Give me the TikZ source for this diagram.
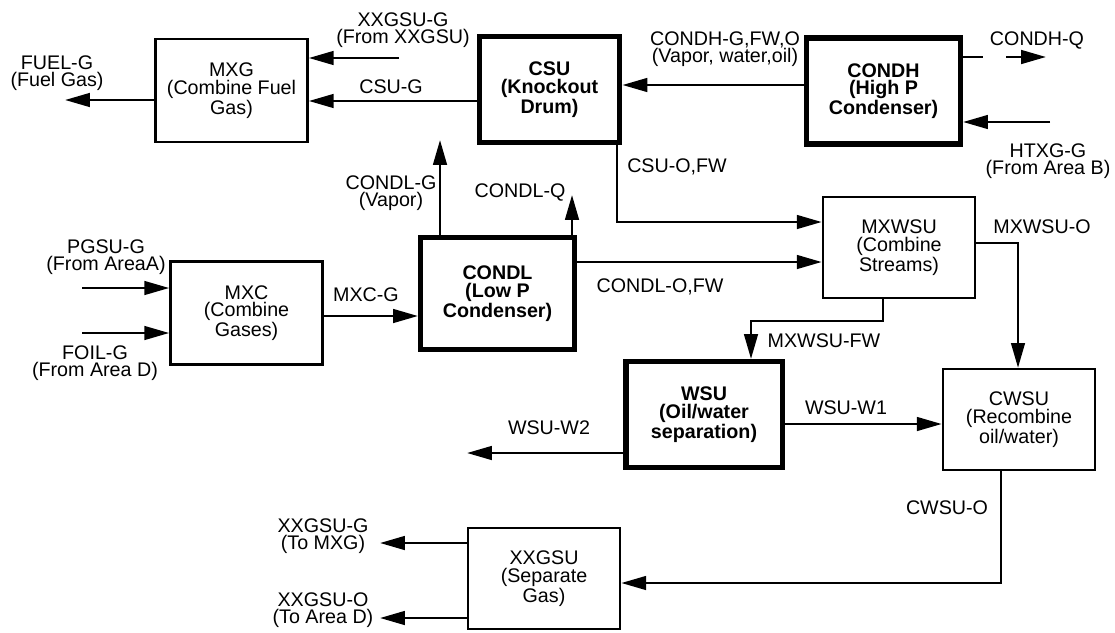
\documentclass[tikz,border=0pt]{standalone}
\usepackage{fontspec}
\setmainfont{Liberation Sans}
\usetikzlibrary{arrows.meta}

\begin{document}
\begin{tikzpicture}[x=0.025cm, y=-0.025cm,
  font=\fontsize{14}{12.5}\selectfont,
  unit/.style={draw, line width=1.8pt, align=center, inner sep=0pt,
    minimum width=3.8cm, minimum height=2.58cm},
  bigunit/.style={unit, line width=3.6pt, font=\fontsize{14}{12.5}\selectfont\bfseries,
    minimum width=3.85cm, minimum height=2.65cm},
  lbl/.style={align=center, inner sep=0pt},
  pipe/.style={line width=1.8pt},
  flow/.style={pipe, -{Triangle[length=0.62cm, width=0.34cm]}}]
\useasboundingbox (0,0) rectangle (1115,632);
% process units
\node[unit] (mxg) at (231.5,90.5) {MXG\\(Combine Fuel\\Gas)};
\node[bigunit, minimum width=3.52cm] (csu) at (549.5,89.5) {CSU\\(Knockout\\Drum)};
\node[bigunit] (condh) at (883.5,91) {CONDH\\(High P\\Condenser)};
\node[unit] (mxc) at (246.5,313) {MXC\\(Combine\\Gases)};
\node[bigunit, minimum height=2.78cm] (condl) at (497.5,293.5) {CONDL\\(Low P\\Condenser)};
\node[unit, minimum height=2.52cm] (mxwsu) at (899,247.5) {MXWSU\\(Combine\\Streams)};
\node[bigunit, minimum width=3.9cm] (wsu) at (704,414.5) {WSU\\(Oil/water\\separation)};
\node[unit, minimum height=2.52cm] (cwsu) at (1019,419.5) {CWSU\\(Recombine\\oil/water)};
\node[unit, minimum height=2.52cm] (xxgsu) at (544,578.5) {XXGSU\\(Separate\\Gas)};
% stream labels
\node[lbl] (lfuel) at (57,73) {FUEL-G\\(Fuel Gas)};
\node[lbl] (lxxin) at (403,30) {XXGSU-G\\(From XXGSU)};
\node[lbl] (lcsug) at (391,87) {CSU-G};
\node[lbl] (lcondhg) at (725,49) {CONDH-G,FW,O\\(Vapor, water,oil)};
\node[lbl] (lcondhq) at (1037,40) {CONDH-Q};
\node[lbl] (lhtxg) at (1048,161) {HTXG-G\\(From Area B)};
\node[lbl] (lcondlg) at (391,193) {CONDL-G\\(Vapor)};
\node[lbl] (lcondlq) at (520,192) {CONDL-Q};
\node[lbl] (lcsuo) at (677,167) {CSU-O,FW};
\node[lbl] (lpgsu) at (106,257) {PGSU-G\\(From AreaA)};
\node[lbl] (lfoil) at (95,363) {FOIL-G\\(From Area D)};
\node[lbl] (lmxcg) at (366,295) {MXC-G};
\node[lbl] (lcondlo) at (660,287) {CONDL-O,FW};
\node[lbl] (lmxwsuo) at (1042,227) {MXWSU-O};
\node[lbl] (lmxwsufw) at (824,341) {MXWSU-FW};
\node[lbl] (lwsuw1) at (846,408) {WSU-W1};
\node[lbl] (lwsuw2) at (549,428) {WSU-W2};
\node[lbl] (lcwsuo) at (947,508) {CWSU-O};
\node[lbl] (lxxg) at (323,536) {XXGSU-G\\(To MXG)};
\node[lbl] (lxxo) at (323,610) {XXGSU-O\\(To Area D)};
% free ends
\coordinate (fuel) at (65,100);
\coordinate (xxin) at (399,58);
\coordinate (qa) at (983,57);
\coordinate (qb) at (1006,57);
\coordinate (qc) at (1046,57);
\coordinate (htxg) at (1050,122);
\coordinate (pgsu) at (82,288);
\coordinate (foil) at (82,333);
\coordinate (vapor) at (440,140);
\coordinate (heatl) at (572,195);
\coordinate (wsuw2) at (467,453);
\coordinate (xxg) at (380,543);
\coordinate (xxo) at (380,618);
% streams
\draw[flow] (mxg.west |- fuel) -- (fuel);
\draw[flow] (xxin) -- (mxg.east |- xxin);
\draw[flow] (csu.west |- 0,101) -- (mxg.east |- 0,101);
\draw[flow] (condh.west |- 0,85) -- (csu.east |- 0,85);
\draw[pipe] (condh.east |- qa) -- (qa);
\draw[flow] (qb) -- (qc);
\draw[flow] (htxg) -- (condh.east |- htxg);
\draw[flow] (pgsu) -- (mxc.west |- pgsu);
\draw[flow] (foil) -- (mxc.west |- foil);
\draw[flow] (mxc.east |- 0,316) -- (condl.west |- 0,316);
\draw[flow] (condl.north -| vapor) -- (vapor);
\draw[flow] (condl.north -| heatl) -- (heatl);
\draw[flow] (csu.south -| 617,0) -- (617,222) -- (mxwsu.west |- 0,222);
\draw[flow] (condl.east |- 0,262) -- (mxwsu.west |- 0,262);
\draw[flow] (mxwsu.east |- 0,243) -- (1018,243) -- (cwsu.north -| 1018,0);
\draw[flow] (mxwsu.south -| 883,0) -- (883,321) -- (751,321) -- (wsu.north -| 751,0);
\draw[flow] (wsu.east |- 0,424) -- (cwsu.west |- 0,424);
\draw[flow] (wsu.west |- wsuw2) -- (wsuw2);
\draw[flow] (cwsu.south -| 1001,0) -- (1001,583) -- (xxgsu.east |- 0,583);
\draw[flow] (xxgsu.west |- xxg) -- (xxg);
\draw[flow] (xxgsu.west |- xxo) -- (xxo);
\end{tikzpicture}
\end{document}
